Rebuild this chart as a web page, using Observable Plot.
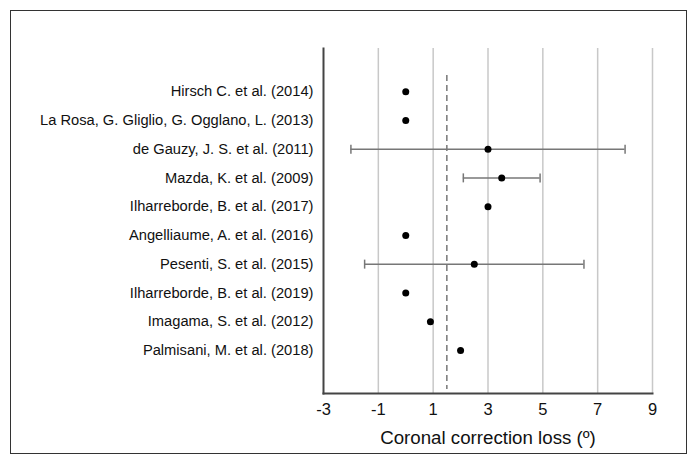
<!DOCTYPE html>
<html>
<head>
<meta charset="utf-8">
<script src="https://cdn.jsdelivr.net/npm/d3@7"></script>
<script src="https://cdn.jsdelivr.net/npm/@observablehq/plot@0.6"></script>
<style>
  html, body { margin: 0; padding: 0; background: #fff; }
  #wrap { position: relative; width: 696px; height: 463px; }
  #frame { position: absolute; left: 10px; top: 10px; width: 675px; height: 442px; border: 1px solid #333; pointer-events: none; }
</style>
</head>
<body>
<div id="wrap"><div id="frame"></div></div>
<script>
const studies = [
  "Hirsch C. et al. (2014)",
  "La Rosa, G. Gliglio, G. Ogglano, L. (2013)",
  "de Gauzy, J. S. et al. (2011)",
  "Mazda, K. et al. (2009)",
  "Ilharreborde, B. et al. (2017)",
  "Angelliaume, A. et al. (2016)",
  "Pesenti, S. et al. (2015)",
  "Ilharreborde, B. et al. (2019)",
  "Imagama, S. et al. (2012)",
  "Palmisani, M. et al. (2018)"
];
const effect = [0, 0, 3, 3.5, 3, 0, 2.5, 0, 0.9, 2];
const lower  = [null, null, -2, 2.1, null, null, -1.5, null, null, null];
const upper  = [null, null, 8, 4.9, null, null, 6.5, null, null, null];
const pooled = [1.5];
const xTicks = [-3, -1, 1, 3, 5, 7, 9];
const gridTicks = [-1, 1, 3, 5, 7, 9];
const xLabel = "Coronal correction loss (º)";

const rows = studies.map((s, i) => ({study: s, est: effect[i], lo: lower[i], hi: upper[i]}));
const ci = rows.filter(d => d.lo != null);
const caps = ci.flatMap(d => [{study: d.study, x: d.lo}, {study: d.study, x: d.hi}]);

const capSymbol = {
  draw(context, size) {
    const h = 4.5;
    context.moveTo(0, -h);
    context.lineTo(0, h);
  }
};

const chart = Plot.plot({
  width: 696,
  height: 463,
  marginLeft: 323,
  marginRight: 44,
  marginTop: 48,
  marginBottom: 70,
  style: {fontFamily: "Liberation Sans, Arial, Helvetica, sans-serif", fontSize: "16px", background: "transparent", color: "#111"},
  x: {domain: [-3, 9]},
  y: {type: "point", domain: studies, padding: 1.5, round: false},
  marks: [
    Plot.ruleX(gridTicks, {stroke: "#c8c8c8", strokeWidth: 1.5}),
    Plot.ruleX(pooled, {stroke: "#555", strokeWidth: 1.2, strokeDasharray: "6,4", insetTop: 27, insetBottom: 4}),
    Plot.ruleY(ci, {y: "study", x1: "lo", x2: "hi", stroke: "#777", strokeWidth: 1.5}),
    Plot.dot(caps, {x: "x", y: "study", symbol: capSymbol, stroke: "#777", strokeWidth: 1.5, fill: "none"}),
    Plot.dot(rows, {x: "est", y: "study", r: 3.5, fill: "#000", stroke: "none"}),
    Plot.axisX({ticks: xTicks, tickSize: 0, tickPadding: 10, fontSize: 16.5, label: null, tickFormat: d => d < 0 ? "-" + Math.abs(d) : String(d)}),
    Plot.axisX({ticks: [], tickSize: 0, fontSize: 18.7, label: xLabel, labelArrow: "none", labelAnchor: "center", labelOffset: 50}),
    Plot.axisY({tickSize: 0, tickPadding: 10, fontSize: 14.7, label: null}),
    Plot.frame({anchor: "left", stroke: "#444", strokeWidth: 2}),
    Plot.frame({anchor: "bottom", stroke: "#444", strokeWidth: 2})
  ]
});
document.getElementById("wrap").prepend(chart);
</script>
</body>
</html>
